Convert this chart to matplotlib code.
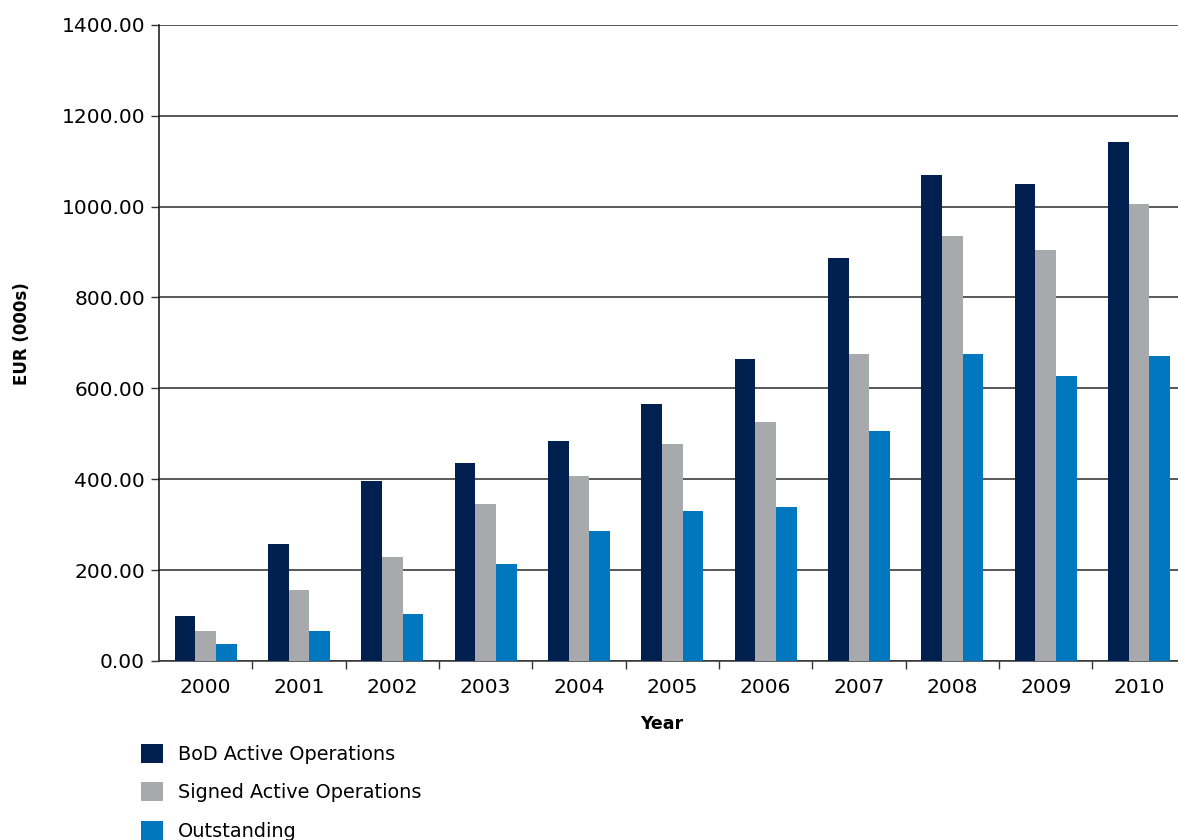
import matplotlib
matplotlib.use("Agg")
import matplotlib.pyplot as plt
import numpy as np
from matplotlib.patches import Patch

years = ["2000", "2001", "2002", "2003", "2004", "2005",
         "2006", "2007", "2008", "2009", "2010"]
bod_active = [99, 257, 396, 436, 484, 565, 664, 886, 1070, 1050, 1141]
signed_active = [66, 156, 229, 345, 407, 477, 526, 675, 935, 905, 1006]
outstanding = [37, 66, 103, 213, 286, 330, 339, 506, 676, 627, 671]

series_names = ["BoD Active Operations", "Signed Active Operations", "Outstanding"]
colors = ["#00214F", "#A8A9AD", "#0077BF"]
y_ticks = [0, 200, 400, 600, 800, 1000, 1200, 1400]

plt.rcParams["font.family"] = ["DejaVu Sans"]

fig = plt.figure(figsize=(11.78, 8.40), dpi=100)
ax = fig.add_axes([159 / 1178, 1 - 661 / 840, (1185.7 - 159) / 1178, (661 - 24.7) / 840])

x = np.arange(len(years))
w = 0.222
for i, (vals, col) in enumerate(zip([bod_active, signed_active, outstanding], colors)):
    ax.bar(x + (i - 1) * w, vals, width=w, color=col, zorder=3, linewidth=0)

ax.set_xlim(-0.5, len(years) - 0.5)
ax.set_ylim(0, 1400)
ax.set_yticks(y_ticks)
ax.set_yticklabels([f"{v:.2f}" for v in y_ticks], fontsize=14.5)
ax.yaxis.grid(True, color="#2a2a2a", linewidth=1.1, zorder=1)
ax.set_axisbelow(True)

ax.set_xticks(x)
ax.set_xticklabels(years, fontsize=14.5)
ax.tick_params(axis="x", which="major", length=0, pad=12)
ax.set_xticks(np.arange(len(years)) + 0.5, minor=True)
ax.tick_params(axis="x", which="minor", length=6, width=1, color="#333333", direction="out")
ax.tick_params(axis="y", length=6, width=1, color="#333333", pad=4)

for side in ["top", "right"]:
    ax.spines[side].set_visible(False)
ax.spines["left"].set_color("#111111")
ax.spines["bottom"].set_color("#333333")
ax.spines["left"].set_linewidth(1.1)
ax.spines["bottom"].set_linewidth(1.1)

fig.text(662 / 1178, 1 - 724 / 840, "Year", ha="center", va="center",
         fontsize=12.5, fontweight="bold")
fig.text(22 / 1178, 1 - 334 / 840, "EUR (000s)", ha="center", va="center",
         rotation=90, fontsize=12, fontweight="bold")

handles = [Patch(facecolor=c, edgecolor="none") for c in colors]
fig.legend(handles, series_names, loc="upper left",
           bbox_to_anchor=(133 / 1178, 1 - 736 / 840), frameon=False,
           fontsize=13.9, handlelength=1.15, handleheight=1.15,
           handletextpad=0.8, labelspacing=0.95, borderaxespad=0)

fig.savefig("out.png", dpi=100)
